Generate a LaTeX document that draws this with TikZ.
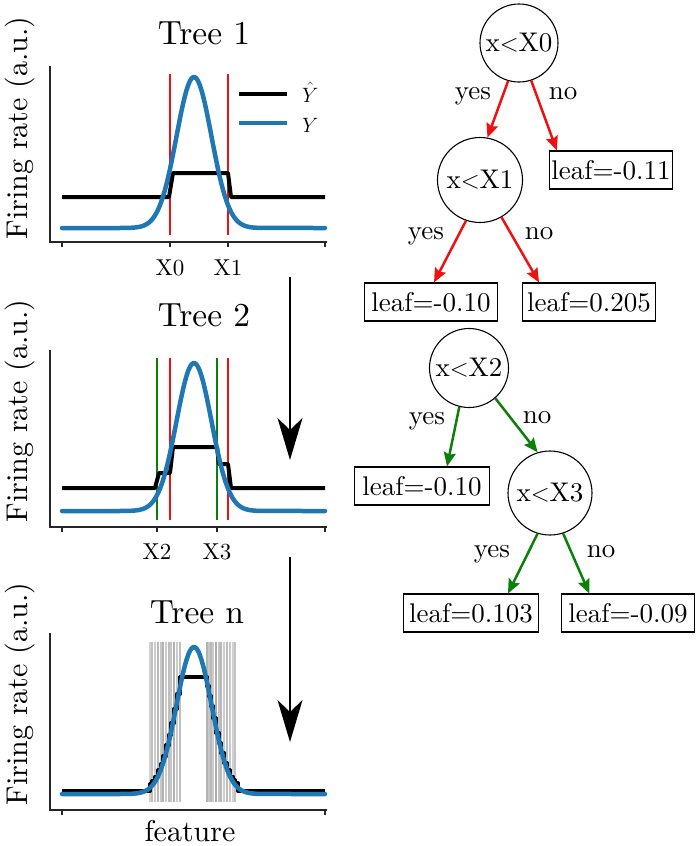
\documentclass[tikz,border=0pt]{standalone}
\usepackage{fontspec}
\setmainfont{lmroman10-regular}[Extension=.otf,BoldFont=lmroman10-bold,ItalicFont=lmroman10-italic]
\usetikzlibrary{arrows.meta,calc}
\definecolor{mplblue}{HTML}{1F77B4}
\definecolor{mplgreen}{HTML}{0A800A}
\definecolor{mplred}{HTML}{F01010}
\begin{document}
\begin{tikzpicture}[x=1pt,y=-1pt,
  declare function={gn(\t)=791-144*exp(-0.5*((\t-194)/17.5)^2);},
  axisline/.style={line width=1.1pt,black!85},
  tickmark/.style={line width=1.1pt,black!85},
  yhat/.style={line width=4pt,black,line join=round},
  ytrue/.style={line width=4.5pt,mplblue,line join=round,line cap=round},
  splitred/.style={line width=2pt,mplred},
  splitgreen/.style={line width=2pt,mplgreen},
  grayline/.style={line width=1.6pt},
  titletext/.style={font=\fontsize{33.5}{36}\selectfont,inner sep=0pt},
  ylab/.style={font=\fontsize{30}{33}\selectfont,rotate=90,inner sep=0pt},
  ticklab/.style={font=\fontsize{23}{25}\selectfont,inner sep=0pt},
  legtext/.style={font=\fontsize{22}{24}\selectfont,inner sep=0pt,anchor=base west},
  bigarrow/.style={line width=2pt,-{Stealth[length=42pt,width=25pt,inset=12pt]}},
  treenode/.style={circle,draw,line width=1.1pt,inner sep=0pt,font=\fontsize{27}{30}\selectfont},
  leafbox/.style={rectangle,draw,line width=1.1pt,inner xsep=6pt,inner ysep=0pt,minimum height=38pt,font=\fontsize{27}{30}\selectfont},
  edgelab/.style={font=\fontsize{27}{30}\selectfont,inner sep=0pt},
  edgered/.style={line width=2.5pt,mplred,-{Stealth[length=14pt,width=12pt,inset=2pt]}},
  edgegreen/.style={line width=2.5pt,mplgreen,-{Stealth[length=14pt,width=12pt,inset=2pt]}}
]
\useasboundingbox (0,0) rectangle (700,846);

% ================= Plot 1 =================
\node[titletext] (t1) at (204,33) {Tree 1};
\node[ylab] (yl1) at (20,128) {Firing rate (a.u.)};
\draw[splitred] (170,74) -- (170,235);
\draw[splitred] (228,74) -- (228,235);
\draw[yhat] (62,197) -- (169,197) -- (173,173) -- (228,173) -- (231,197) -- (325,197);
\draw[ytrue] (62,228) -- (120,228) -- plot[domain=120:268,samples=90] (\x,{228-151*exp(-0.5*((\x-194)/17.5)^2)}) -- (325,228);
\draw[axisline] (50,66) -- (50,242) -- (327,242);
\foreach \t in {62,170,228,325} \draw[tickmark] (\t,242) -- (\t,247);
\node[ticklab] (x0) at (170,268) {X0};
\node[ticklab] (x1) at (228,268) {X1};
\draw[line width=4pt,black] (239,94) -- (287,94);
\draw[line width=4.5pt,mplblue] (239,123) -- (287,123);
\node[legtext] (lg1) at (302,102) {$\hat{Y}$};
\node[legtext] (lg2) at (302,132) {$Y$};

% ================= Plot 2 =================
\node[titletext] (t2) at (204,315) {Tree 2};
\node[ylab] (yl2) at (20,411) {Firing rate (a.u.)};
\draw[splitgreen] (157,358) -- (157,520);
\draw[splitgreen] (217,358) -- (217,520);
\draw[splitred] (170,358) -- (170,520);
\draw[splitred] (228,358) -- (228,520);
\draw[yhat] (62,488) -- (155,488) -- (159,473) -- (170,473) -- (173,447) -- (217,447) -- (219,464) -- (228,464) -- (231,488) -- (325,488);
\draw[ytrue] (62,511) -- (120,511) -- plot[domain=120:268,samples=90] (\x,{511-148*exp(-0.5*((\x-194)/17.5)^2)}) -- (325,511);
\draw[axisline] (50,350) -- (50,527) -- (327,527);
\foreach \t in {62,157,217,325} \draw[tickmark] (\t,527) -- (\t,532);
\node[ticklab] (x2) at (157,552) {X2};
\node[ticklab] (x3) at (217,552) {X3};

% ================= Plot 3 =================
\node[titletext] (t3) at (197,612) {Tree n};
\node[ylab] (yl3) at (20,694) {Firing rate (a.u.)};
\foreach \g/\s in {150/18,152/25,155/20,158/28,161/22,163/30,166/20,169/26,171/22,174/30,177/20,180/25,
                   207/30,209/22,211/28,213/20,216/32,219/24,221/28,224/20,227/26,230/22,233/18,235/24}
  \draw[grayline,black!\s] (\g,642) -- (\g,802);
\draw[yhat] (62,791) -- (150,791)
  foreach \a/\b in {150/152,152/155,155/158,158/161,161/163,163/166,166/169,169/171,171/174,174/177,177/180}
    { -- (\a,{gn((\a+\b)/2)}) -- (\b,{gn((\a+\b)/2)}) }
  -- (180,677) -- (207,677)
  foreach \a/\b in {207/209,209/211,211/213,213/216,216/219,219/221,221/224,224/227,227/230,230/233,233/235,235/238}
    { -- (\a,{gn((\a+\b)/2)}) -- (\b,{gn((\a+\b)/2)}) }
  -- (238,791) -- (325,791);
\draw[ytrue] (62,794) -- (120,794) -- plot[domain=120:268,samples=90] (\x,{794-147*exp(-0.5*((\x-194)/17.5)^2)}) -- (325,794);
\draw[axisline] (50,633) -- (50,810) -- (327,810);
\foreach \t in {62,325} \draw[tickmark] (\t,810) -- (\t,815);
\node[font=\fontsize{30}{33}\selectfont,inner sep=0pt] (feat) at (190,831) {feature};

% ================= big arrows =================
\coordinate (a1s) at (290,277);
\coordinate (a1e) at (290,460);
\coordinate (a2s) at (290,557);
\coordinate (a2e) at (290,742);
\draw[bigarrow] (a1s) -- (a1e);
\draw[bigarrow] (a2s) -- (a2e);

% ================= Tree 1 =================
\node[treenode,minimum size=78pt] (r0) at (519,43) {x$<$X0};
\node[treenode,minimum size=85pt] (r1) at (480,180) {x$<$X1};
\node[leafbox,inner xsep=2pt] (l11) at (611,170) {leaf=-0.11};
\node[leafbox,inner xsep=6.5pt] (l10) at (431,302) {leaf=-0.10};
\node[leafbox,inner xsep=4.5pt] (l205) at (589,302) {leaf=0.205};
\draw[edgered] (r0.-106) -- (r1.80);
\draw[edgered] (r0.-72) -- ([xshift=8pt]l11.north west);
\draw[edgered] (r1.-109) -- ([xshift=3pt]l10.north);
\draw[edgered] (r1.-60) -- ([xshift=17pt]l205.north west);
\node[edgelab] (e1) at (473,96) {yes};
\node[edgelab] (e2) at (563,94) {no};
\node[edgelab] (e3) at (426,236) {yes};
\node[edgelab] (e4) at (539,234) {no};

% ================= Tree 2 =================
\node[treenode,minimum size=79pt] (g0) at (469,368) {x$<$X2};
\node[treenode,minimum size=84pt] (g1) at (550,493) {x$<$X3};
\node[leafbox,inner xsep=7.5pt] (m10) at (422,486) {leaf=-0.10};
\node[leafbox,inner xsep=6pt] (m103) at (471,613) {leaf=0.103};
\node[leafbox,inner xsep=6.5pt] (m09) at (628,613) {leaf=-0.09};
\draw[edgegreen] (g0.-104) -- ([xshift=25pt]m10.north);
\draw[edgegreen] (g0.-49) -- (g1.107);
\draw[edgegreen] (g1.-107) -- ([xshift=37pt]m103.north);
\draw[edgegreen] (g1.-72) -- ([xshift=28pt]m09.north west);
\node[edgelab] (f1) at (427,421) {yes};
\node[edgelab] (f2) at (537,418) {no};
\node[edgelab] (f3) at (492,554) {yes};
\node[edgelab] (f4) at (601,552) {no};
\end{tikzpicture}
\end{document}
